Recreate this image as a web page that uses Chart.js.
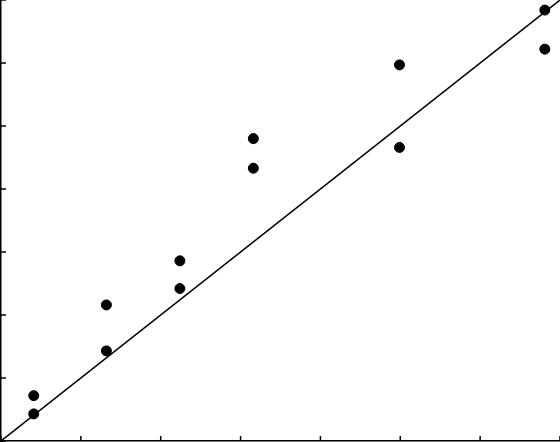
<!DOCTYPE html>
<html lang="en">
  <head>
    <meta charset="UTF-8" />
    <title>Scatter with fit line</title>
    <script src="https://cdn.jsdelivr.net/npm/chart.js"></script>
    <style>
      body { margin: 0; background: #fff; }
    </style>
  </head>
  <body>
    <div style="width: 560px; height: 442px">
      <canvas id="scatterChart"></canvas>
    </div>

    <script>
      // Measured points (x in tick units, y in tick units)
      const xValues = [0.41, 0.41, 1.32, 1.32, 2.24, 2.24, 3.16, 3.16, 4.99, 4.99, 6.81, 6.81];
      const yValues = [0.43, 0.72, 1.43, 2.16, 2.42, 2.86, 4.33, 4.80, 4.66, 5.97, 6.22, 6.84];
      // Reference line y = x
      const lineX = [0, 7];
      const lineY = [0, 7];
      const axisMin = 0;
      const axisMax = 7;

      const points = xValues.map((x, i) => ({ x: x, y: yValues[i] }));
      const linePoints = lineX.map((x, i) => ({ x: x, y: lineY[i] }));

      // Inward tick marks (Chart.js only draws them outward)
      const innerTicks = {
        id: "innerTicks",
        afterDraw(chart) {
          const ctx = chart.ctx;
          const xs = chart.scales.x;
          const ys = chart.scales.y;
          const len = 5;
          ctx.save();
          ctx.strokeStyle = "#000";
          ctx.lineWidth = 1.5;
          ctx.beginPath();
          xs.ticks.forEach((t) => {
            const px = xs.getPixelForValue(t.value);
            ctx.moveTo(px, xs.top);
            ctx.lineTo(px, xs.top - len);
          });
          ys.ticks.forEach((t) => {
            const py = ys.getPixelForValue(t.value);
            ctx.moveTo(ys.right, py);
            ctx.lineTo(ys.right + len, py);
          });
          ctx.stroke();
          ctx.restore();
        },
      };

      new Chart(document.getElementById("scatterChart"), {
        type: "scatter",
        data: {
          datasets: [
            {
              data: points,
              backgroundColor: "#000",
              borderColor: "#000",
              pointRadius: 5,
              pointHoverRadius: 5,
            },
            {
              type: "line",
              data: linePoints,
              borderColor: "#000",
              borderWidth: 1.5,
              pointRadius: 0,
              fill: false,
            },
          ],
        },
        options: {
          responsive: true,
          maintainAspectRatio: false,
          animation: false,
          layout: { autoPadding: false, padding: { left: 1, right: 0, top: 0, bottom: 1 } },
          plugins: { legend: { display: false }, tooltip: { enabled: false } },
          scales: {
            x: {
              type: "linear",
              min: axisMin,
              max: axisMax,
              ticks: { display: false, stepSize: 1 },
              grid: { drawOnChartArea: false, drawTicks: false },
              border: { display: true, color: "#000", width: 1.5 },
            },
            y: {
              type: "linear",
              min: axisMin,
              max: axisMax,
              ticks: { display: false, stepSize: 1 },
              grid: { drawOnChartArea: false, drawTicks: false },
              border: { display: true, color: "#000", width: 1.5 },
            },
          },
        },
        plugins: [innerTicks],
      });
    </script>
  </body>
</html>
